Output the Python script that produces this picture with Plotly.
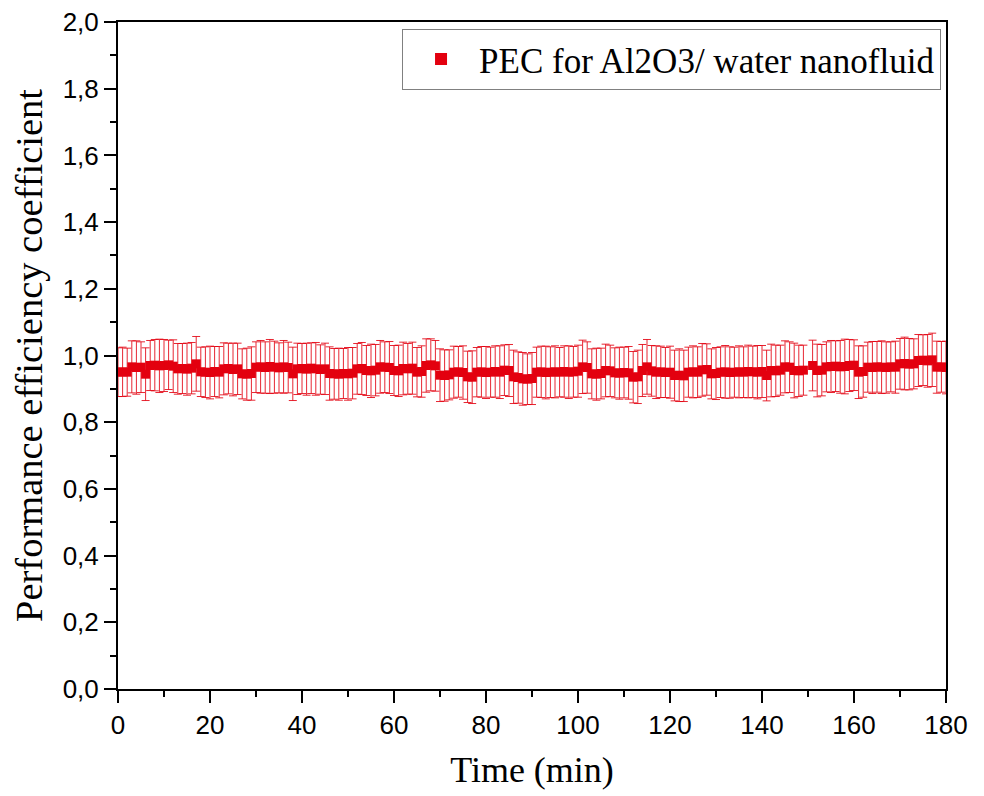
import plotly.graph_objects as go

time_min = list(range(181))

pec_values = [
    0.950, 0.951, 0.950,
    0.966, 0.964, 0.965,
    0.944,
    0.970, 0.971, 0.969, 0.970, 0.972, 0.968,
    0.960, 0.961, 0.959, 0.962,
    0.975,
    0.951, 0.950, 0.949, 0.952, 0.950,
    0.960, 0.961, 0.958, 0.960,
    0.945, 0.944, 0.946,
    0.965, 0.966, 0.964, 0.967,
    0.965, 0.963, 0.966, 0.964,
    0.945,
    0.960, 0.961, 0.959, 0.962, 0.960,
    0.958, 0.960,
    0.946, 0.945, 0.944, 0.946, 0.945, 0.947,
    0.960, 0.961,
    0.955, 0.954, 0.956,
    0.966, 0.965, 0.964,
    0.955, 0.954,
    0.961, 0.960, 0.962,
    0.950, 0.952,
    0.970, 0.972, 0.969,
    0.941, 0.940, 0.942,
    0.950, 0.951, 0.949,
    0.936, 0.935,
    0.950, 0.951, 0.949, 0.950, 0.952, 0.950,
    0.956, 0.955,
    0.936, 0.934,
    0.930, 0.929, 0.931,
    0.950, 0.951, 0.949, 0.950, 0.951, 0.950,
    0.952, 0.950, 0.951, 0.953,
    0.966, 0.964,
    0.945, 0.944, 0.946,
    0.955, 0.954,
    0.948, 0.947, 0.949, 0.948,
    0.935, 0.936,
    0.955, 0.966, 0.954,
    0.950, 0.951, 0.949, 0.950,
    0.940, 0.941, 0.939,
    0.950, 0.951, 0.950,
    0.957, 0.958,
    0.945, 0.946,
    0.950, 0.951, 0.949, 0.950, 0.951, 0.950, 0.952,
    0.951, 0.950, 0.952,
    0.940,
    0.955, 0.954, 0.956,
    0.966, 0.965,
    0.955, 0.954, 0.956,
    None,
    0.970,
    0.955, 0.956,
    0.966, 0.967, 0.968, 0.966, 0.967,
    0.970, 0.971,
    0.950, 0.952,
    0.965, 0.964, 0.966, 0.965, 0.964, 0.966, 0.965,
    0.975, 0.976, 0.974, 0.975,
    0.985, 0.986, 0.984, 0.987,
    0.965, 0.966, 0.964,
]

pec_errors = [
    0.073, 0.074, 0.072, 0.078, 0.080, 0.076, 0.079, 0.075, 0.077, 0.080,
    0.078, 0.074, 0.079, 0.076, 0.075, 0.078, 0.077, 0.082, 0.074, 0.076,
    0.079, 0.075, 0.077, 0.078, 0.076, 0.079, 0.077, 0.075, 0.078, 0.080,
    0.076, 0.079, 0.077, 0.081, 0.078, 0.075, 0.079, 0.076, 0.080, 0.077,
    0.075, 0.078, 0.076, 0.079, 0.074, 0.077, 0.080, 0.076, 0.078, 0.075,
    0.079, 0.077, 0.076, 0.078, 0.075, 0.080, 0.077, 0.079, 0.076, 0.078,
    0.075, 0.077, 0.079, 0.076, 0.078, 0.074, 0.077, 0.080, 0.078, 0.076,
    0.079, 0.077, 0.075, 0.078, 0.076, 0.080, 0.077, 0.079, 0.074, 0.076,
    0.078, 0.075, 0.077, 0.079, 0.076, 0.078, 0.080, 0.077, 0.079, 0.076,
    0.078, 0.075, 0.077, 0.079, 0.076, 0.078, 0.074, 0.077, 0.079, 0.076,
    0.078, 0.080, 0.077, 0.075, 0.078, 0.076, 0.079, 0.077, 0.075, 0.078,
    0.076, 0.079, 0.077, 0.080, 0.078, 0.082, 0.076, 0.079, 0.077, 0.075,
    0.078, 0.076, 0.079, 0.077, 0.075, 0.078, 0.076, 0.079, 0.077, 0.075,
    0.078, 0.076, 0.079, 0.077, 0.075, 0.078, 0.076, 0.079, 0.077, 0.080,
    0.078, 0.076, 0.079, 0.077, 0.075, 0.078, 0.076, 0.082, 0.077, 0.075,
    0.0, 0.076, 0.079, 0.077, 0.075, 0.078, 0.076, 0.079, 0.082, 0.078,
    0.076, 0.079, 0.077, 0.075, 0.078, 0.076, 0.079, 0.077, 0.075, 0.078,
    0.076, 0.079, 0.077, 0.075, 0.078, 0.076, 0.079, 0.080, 0.078, 0.076,
    0.079,
]

series_name = "PEC for Al2O3/ water nanofluid"
x_title = "Time (min)"
y_title = "Performance efficiency coefficient"

red = "rgb(227,0,15)"

fig = go.Figure()
fig.add_trace(go.Scatter(
    x=time_min,
    y=pec_values,
    mode="markers",
    name=series_name,
    marker=dict(symbol="square", size=9, color=red, line=dict(width=0)),
    error_y=dict(type="data", array=pec_errors, visible=True,
                 color="rgba(227,0,15,0.85)", thickness=1, width=4),
    showlegend=True,
))

axis_common = dict(
    showline=True, linecolor="black", linewidth=2, mirror=True,
    ticks="outside", ticklen=12, tickwidth=2, tickcolor="black",
    showgrid=False, zeroline=False, ticklabeloverflow="allow",
    automargin=False,
    tickfont=dict(family="Liberation Sans, Arial", size=26, color="black"),
)

fig.update_xaxes(
    range=[0, 180], tick0=0, dtick=20,
    minor=dict(dtick=10, ticks="outside", ticklen=6, tickwidth=2, tickcolor="black"),
    title_text=x_title, title_standoff=18,
    title_font=dict(family="Liberation Serif, Times New Roman", size=36, color="black"),
    **axis_common,
)
fig.update_yaxes(
    range=[0, 2.0], tick0=0, dtick=0.2, tickformat=".1f",
    minor=dict(dtick=0.1, ticks="outside", ticklen=6, tickwidth=2, tickcolor="black"),
    title_text=y_title, title_standoff=13,
    title_font=dict(family="Liberation Serif, Times New Roman", size=38.5, color="black"),
    **axis_common,
)

fig.update_layout(
    width=984, height=796,
    margin=dict(l=110, r=46, t=14, b=115),
    paper_bgcolor="white", plot_bgcolor="white",
    separators=",.",
    legend=dict(
        x=0.994, y=0.99, xanchor="right", yanchor="top",
        bordercolor="gray", borderwidth=1, bgcolor="white",
        font=dict(family="Liberation Serif, Times New Roman", size=35, color="black"),
        itemsizing="constant", itemwidth=66,
    ),
)

fig.write_html("out.html")
